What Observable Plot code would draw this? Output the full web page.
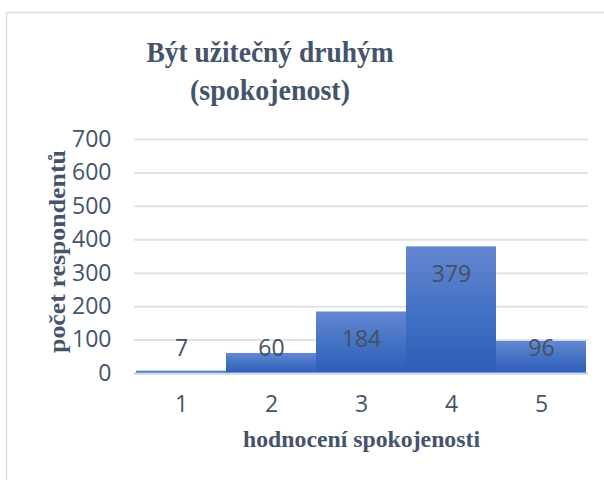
<!DOCTYPE html>
<html>
<head>
<meta charset="utf-8">
<script src="https://cdn.jsdelivr.net/npm/d3@7"></script>
<script src="https://cdn.jsdelivr.net/npm/@observablehq/plot@0.6"></script>
<style>
  html, body { margin: 0; padding: 0; background: #fff; }
  #chart { width: 604px; height: 480px; }
</style>
</head>
<body>
<div id="chart"></div>
<script>
const categories = ["1", "2", "3", "4", "5"];
const values = [7, 60, 184, 379, 96];
const yTicks = [0, 100, 200, 300, 400, 500, 600, 700];
const titleLines = ["Být užitečný druhým", "(spokojenost)"];
const yLabel = "počet respondentů";
const xLabel = "hodnocení spokojenosti";

const data = categories.map((c, i) => ({ cat: c, value: values[i] }));
const textColor = "#44546a";
const sans = "'Open Sans', 'Liberation Sans', sans-serif";
const serif = "'Liberation Serif', 'DejaVu Serif', serif";
const tickSize = 23;

const plot = Plot.plot({
  width: 604,
  height: 480,
  marginLeft: 134,
  marginRight: 16,
  marginTop: 139,
  marginBottom: 107,
  style: { fontFamily: sans, color: textColor, background: "#fff", overflow: "visible" },
  x: { domain: categories, padding: 0 },
  y: { domain: [0, 700] },
  marks: [
    Plot.gridY(yTicks, { stroke: "#dfe3e8", strokeWidth: 2, strokeOpacity: 1 }),
    Plot.barY(data, { x: "cat", y: "value", fill: "url(#barGrad)", inset: 0 }),
    Plot.ruleY([0], { stroke: "#c9d4e6", strokeWidth: 2 }),
    Plot.axisY(yTicks, {
      label: null, tickSize: 0, tickPadding: 23,
      tickFormat: d => String(d),
      fontSize: tickSize, fontFamily: sans, fill: textColor
    }),
    Plot.axisX(categories, {
      label: null, tickSize: 0, tickPadding: 22,
      fontSize: tickSize, fontFamily: sans, fill: textColor
    }),
    Plot.text(data, {
      x: "cat",
      y: d => Math.max(d.value - 84, 75),
      text: d => String(d.value),
      fill: "#44505f",
      fontSize: tickSize,
      fontFamily: sans
    })
  ]
});

document.getElementById("chart").appendChild(plot);

const svg = d3.select(plot);
const defs = svg.insert("defs", ":first-child");
const grad = defs.append("linearGradient")
  .attr("id", "barGrad").attr("x1", 0).attr("y1", 0).attr("x2", 0).attr("y2", 1);
grad.append("stop").attr("offset", "0%").attr("stop-color", "#6587d2");
grad.append("stop").attr("offset", "50%").attr("stop-color", "#4472c4");
grad.append("stop").attr("offset", "100%").attr("stop-color", "#2e5cb8");

// chart border (top + left visible)
svg.append("path")
  .attr("d", "M6.5,480 L6.5,12.5 L604,12.5")
  .attr("fill", "none").attr("stroke", "#d9dee6").attr("stroke-width", 1.5);

// title
const titleWidths = [247, 160];
titleLines.forEach((t, i) => {
  svg.append("text")
    .attr("x", 270).attr("y", 62 + i * 38)
    .attr("text-anchor", "middle")
    .attr("fill", textColor)
    .attr("font-family", serif)
    .attr("font-weight", "bold")
    .attr("font-size", 29.5)
    .attr("textLength", titleWidths[i])
    .attr("lengthAdjust", "spacingAndGlyphs")
    .text(t);
});

// y axis label
svg.append("text")
  .attr("transform", "translate(65,251.5) rotate(-90)")
  .attr("text-anchor", "middle")
  .attr("fill", textColor)
  .attr("font-family", serif)
  .attr("font-weight", "bold")
  .attr("font-size", 24)
  .attr("textLength", 203)
  .attr("lengthAdjust", "spacingAndGlyphs")
  .text(yLabel);

// x axis label
svg.append("text")
  .attr("x", 361.5).attr("y", 447)
  .attr("text-anchor", "middle")
  .attr("fill", textColor)
  .attr("font-family", serif)
  .attr("font-weight", "bold")
  .attr("font-size", 23.5)
  .attr("textLength", 237)
  .attr("lengthAdjust", "spacingAndGlyphs")
  .text(xLabel);
</script>
</body>
</html>
